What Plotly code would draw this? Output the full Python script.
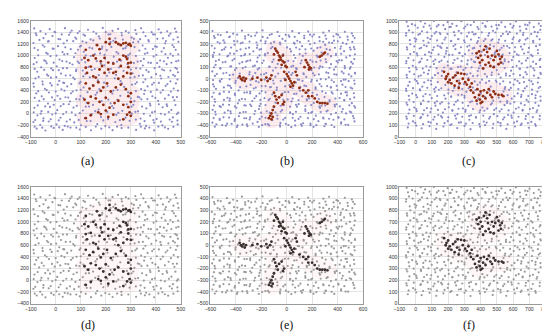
import plotly.graph_objects as go

# ---------------- data: panel (a)/(d) ----------------
A_BACKGROUND = [
    (-86,1468),(-61,1422),(-24,1455),(-2,1402),(37,1473),(64,1431),(88,1389),(129,1446),(151,1411),(188,1478),(227,1427),(249,1460),(291,1396),(318,1441),(341,1470),(383,1404),(411,1452),(445,1418),(476,1466),
    (-77,1352),(-49,1301),(-13,1336),(11,1285),(53,1358),(78,1312),(117,1343),(139,1279),(172,1330),(211,1366),(238,1297),(264,1349),(303,1311),(337,1283),(359,1337),(396,1364),(428,1298),(452,1344),(487,1316),
    (-89,1217),(-52,1178),(-31,1241),(9,1163),(32,1209),(70,1248),(97,1155),(122,1224),(163,1186),(186,1153),(219,1235),(256,1196),(282,1160),(309,1228),(347,1174),(372,1244),(404,1151),(437,1212),(466,1183),(490,1238),
    (-71,1096),(-38,1047),(-8,1118),(27,1061),(47,1029),(89,1101),(112,1064),(146,1123),(177,1038),(204,1093),(243,1058),(269,1120),(297,1033),(334,1088),(366,1046),(388,1112),(423,1069),(458,1031),(479,1099),
    (-84,958),(-46,917),(-21,989),(15,931),(43,896),(73,972),(104,927),(140,993),(164,904),(197,948),(232,981),(261,912),(288,964),(327,897),(352,942),(391,986),(417,915),(448,961),(481,901),
    (-88,852),(-58,798),(-36,867),(4,815),(29,783),(67,846),(93,871),(131,806),(156,768),(194,832),(229,879),(253,797),(286,853),(321,781),(348,829),(380,874),(414,806),(443,851),(478,789),
    (-74,721),(-35,672),(-11,748),(21,689),(58,659),(81,731),(119,684),(144,751),(172,662),(214,708),(241,668),(271,736),(307,694),(332,651),(371,718),(401,679),(433,746),(469,668),(488,712),
    (-81,605),(-53,551),(-19,618),(14,563),(34,527),(76,592),(99,546),(136,624),(168,571),(193,533),(236,608),(259,559),(298,619),(324,540),(358,589),(392,531),(421,604),(458,556),(486,587),
    (-87,462),(-43,426),(-16,485),(23,417),(46,468),(83,401),(111,451),(148,492),(174,423),(207,471),(247,409),(273,459),(305,497),(341,422),(367,468),(404,411),(439,478),(471,432),
    (-78,346),(-56,296),(-27,363),(7,307),(39,281),(61,349),(99,301),(127,368),(159,323),(199,279),(226,344),(258,306),(289,364),(328,287),(353,337),(386,298),(419,361),(451,317),(484,284),
    (-66,219),(-31,171),(-4,232),(31,162),(57,207),(95,243),(124,183),(149,148),(183,214),(219,176),(246,238),(284,159),(314,213),(342,245),(376,171),(409,219),(443,157),(474,229),
    (-85,98),(-57,41),(-23,113),(6,57),(42,26),(71,103),(108,52),(133,121),(171,68),(206,27),(231,94),(266,47),(303,118),(329,38),(362,88),(396,31),(427,107),(462,62),(489,14),
    (-73,-31),(-49,-84),(-14,-17),(19,-73),(57,-104),(79,-28),(116,-78),(144,-8),(181,-61),(209,-97),(242,-22),(279,-72),(304,-3),(339,-88),(377,-39),(403,-94),(436,-18),(468,-67),
    (-89,-147),(-62,-198),(-28,-138),(3,-189),(36,-215),(74,-153),(101,-203),(139,-131),(166,-182),(198,-218),(238,-147),(262,-198),(295,-127),(336,-178),(361,-214),(393,-158),(426,-205),(464,-142),(487,-188),
    (-76,-261),(-41,-293),(-8,-249),(28,-284),(59,-243),(96,-276),(141,-289),(182,-262),(227,-287),(263,-251),(321,-283),(356,-258),(393,-291),(449,-264),
]
A_BACKGROUND_2 = [
    (-80,1385),(-40,1372),(-5,1410),(24,1365),(58,1398),(95,1420),(111,1360),(162,1378),(200,1405),(218,1368),(263,1392),(280,1422),(322,1374),(350,1402),(389,1365),(420,1395),(458,1378),(481,1410),
    (-65,1270),(-28,1248),(18,1282),(45,1258),(82,1290),(107,1245),(150,1262),(176,1294),(230,1255),(268,1275),(312,1290),(330,1240),(370,1268),(406,1290),(440,1252),(470,1276),
    (-85,1130),(-45,1152),(-12,1120),(38,1142),(60,1110),(101,1170),(135,1136),(184,1120),(222,1150),(278,1128),(315,1146),(358,1118),(397,1158),(432,1130),(472,1146),
    (-70,1005),(-32,1028),(3,998),(34,1020),(79,1040),(120,1002),(156,1025),(195,1012),(250,1035),(290,1008),(320,994),(356,1030),(402,1010),(438,1024),(468,996),(489,1022),
    (-76,884),(-40,900),(-8,878),(26,906),(56,870),(88,896),(118,884),(180,860),(245,895),(312,870),(340,905),(370,880),(405,870),(432,900),(462,876),(490,912),
    (-84,770),(-46,752),(-18,778),(12,748),(45,782),(82,760),(108,742),(220,770),(300,758),(338,776),(362,750),(395,782),(425,760),(458,742),(484,772),
    (-68,632),(-30,650),(2,628),(40,656),(70,620),(110,640),(205,650),(315,632),(348,658),(382,624),(418,652),(450,630),(476,646),
    (-89,520),(-52,502),(-22,526),(8,498),(30,532),(62,508),(95,520),(265,520),(318,512),(350,540),(385,500),(412,528),(446,508),(480,520),
    (-70,385),(-36,402),(0,378),(35,395),(68,380),(100,410),(165,360),(230,395),(320,386),(356,398),(380,372),(428,404),(460,378),(488,395),
    (-84,270),(-48,248),(-15,280),(18,254),(50,275),(82,250),(110,268),(210,240),(300,262),(334,278),(366,250),(398,270),(436,256),(468,282),
    (-72,140),(-42,122),(-8,150),(20,128),(52,160),(84,132),(120,118),(225,130),(310,150),(345,120),(378,140),(412,160),(445,128),(478,146),
    (-88,20),(-60,-2),(-30,28),(0,4),(30,-10),(64,20),(96,8),(158,40),(250,10),(318,30),(352,-6),(385,18),(420,-4),(452,24),(484,-8),
    (-82,-112),(-50,-128),(-20,-100),(12,-120),(44,-140),(92,-110),(124,-130),(190,-120),(256,-115),(320,-105),(355,-130),(390,-112),(420,-140),(455,-104),(486,-122),
    (-84,-228),(-54,-245),(-18,-222),(14,-240),(48,-226),(82,-244),(120,-232),(160,-225),(214,-240),(245,-228),(290,-244),(340,-228),(374,-242),(410,-226),(436,-240),(470,-230),
]
A_CLUSTER = [
    (165,1180),(200,1230),(215,1290),(215,1200),(240,1230),(250,1200),(260,1180),(270,1210),(280,1220),(290,1190),(295,1200),(300,1170),(120,1100),(175,1110),
    (115,960),(130,920),(150,1000),(160,950),(180,900),(195,960),(210,880),(230,860),(255,930),(270,1000),(280,980),(285,940),(290,870),(300,880),(260,820),
    (120,790),(125,700),(140,810),(150,640),(160,620),(175,760),(185,820),(195,700),(210,760),(230,700),(240,720),(250,600),(270,640),(285,700),(290,800),(300,690),
    (120,520),(135,430),(150,480),(170,540),(180,390),(190,450),(205,520),(220,380),(240,450),(260,500),(280,420),(300,350),(290,300),
    (115,240),(130,180),(140,290),(160,260),(175,200),(190,150),(200,270),(215,100),(235,180),(250,220),(270,150),(290,110),(300,200),
    (120,-80),(140,-30),(170,20),(180,-10),(200,50),(210,-60),(230,-20),(270,-100),(285,-20),(295,20),(300,-40),
]

# ---------------- data: panel (b)/(e) ----------------
B_BACKGROUND = [
    (-583,412),(-541,381),(-470,402),(-421,389),(-352,415),(-301,378),(-236,398),(-190,417),(-117,386),(-72,404),(-8,379),(44,411),(97,393),(169,407),(214,382),(288,398),(333,414),(391,385),(457,405),(512,392),
    (-566,352),(-497,331),(-452,360),(-388,322),(-326,347),(-279,366),(-204,329),(-151,352),(-99,318),(-33,344),(21,362),(83,327),(138,350),(201,366),(259,324),(311,345),(372,329),(418,358),(481,336),(534,351),
    (-588,285),(-526,306),(-481,272),(-409,294),(-347,311),(-296,268),(-231,289),(-168,306),(-112,275),(-51,297),(3,270),(62,303),(121,281),(184,298),(241,266),(302,292),(357,309),(426,278),(469,301),(528,274),
    (-571,226),(-509,248),(-445,219),(-392,241),(-327,213),(-262,237),(-214,252),(-149,221),(-86,244),(-27,212),(34,236),(101,254),(149,218),(211,242),(274,226),(339,249),(387,215),(451,238),(503,252),
    (-580,188),(-532,163),(-467,194),(-411,171),(-358,198),(-287,158),(-228,183),(-170,201),(-103,166),(-56,190),(12,155),(68,179),(127,197),(186,162),(244,187),(306,168),(348,195),(413,160),(468,184),(531,170),
    (-559,119),(-503,142),(-437,108),(-371,131),(-319,149),(-250,113),(-193,136),(-134,104),(-71,128),(-11,146),(51,111),(109,133),(168,118),(232,145),(281,102),(349,126),(402,141),(456,109),(519,130),
    (-585,63),(-522,88),(-474,52),(-406,76),(-345,92),(-291,58),(-228,81),(-161,49),(-108,71),(-44,95),(17,57),(79,83),(132,46),(193,74),(256,90),(311,55),(372,78),(433,61),(497,87),(536,52),
    (-564,24),(-511,-3),(-448,31),(-383,7),(-331,-10),(-266,21),(-202,36),(-143,-6),(-89,18),(-19,2),(36,33),(97,-9),(154,16),(219,29),(268,-4),(331,12),(391,35),(448,-8),(508,20),
    (-579,-48),(-523,-25),(-462,-58),(-403,-36),(-349,-17),(-284,-52),(-221,-30),(-166,-64),(-102,-41),(-47,-19),(21,-55),(73,-33),(139,-60),(192,-24),(259,-46),(318,-63),(371,-28),(438,-51),(487,-20),(534,-44),
    (-556,-87),(-494,-112),(-437,-79),(-378,-101),(-313,-118),(-259,-84),(-197,-106),(-131,-74),(-79,-98),(-14,-115),(47,-82),(104,-104),(163,-120),(227,-88),(279,-109),(346,-76),(398,-97),(462,-117),(515,-85),
    (-586,-156),(-527,-133),(-466,-164),(-406,-141),(-352,-173),(-287,-127),(-239,-150),(-174,-168),(-113,-136),(-58,-159),(8,-178),(59,-131),(122,-152),(176,-170),(238,-139),(297,-158),(361,-128),(416,-166),(474,-144),(531,-161),
    (-563,-199),(-501,-224),(-449,-189),(-384,-212),(-322,-231),(-271,-193),(-206,-216),(-142,-184),(-88,-207),(-23,-228),(38,-196),(94,-219),(159,-186),(213,-210),(274,-232),(337,-197),(392,-220),(453,-187),(512,-211),
    (-582,-268),(-518,-243),(-461,-274),(-396,-251),(-341,-287),(-278,-236),(-218,-262),(-157,-281),(-101,-247),(-36,-270),(27,-289),(81,-241),(146,-264),(201,-285),(262,-252),(322,-274),(379,-239),(441,-262),(496,-283),(538,-250),
    (-558,-309),(-497,-333),(-439,-298),(-376,-322),(-318,-341),(-254,-304),(-196,-328),(-134,-293),(-74,-317),(-12,-338),(49,-306),(108,-329),(171,-296),(229,-319),(289,-343),(348,-307),(406,-331),(467,-299),(521,-322),
    (-584,-379),(-526,-356),(-468,-388),(-409,-364),(-348,-396),(-291,-351),(-229,-373),(-168,-392),(-113,-358),(-49,-381),(13,-399),(66,-362),(129,-384),(187,-401),(249,-366),(306,-389),(367,-354),(428,-377),(483,-398),(533,-368),
    (-565,-414),(-478,-405),(-391,-417),(-309,-409),(-219,-416),(-138,-403),(-52,-413),(36,-418),(119,-406),(211,-415),(296,-410),(374,-417),
]
B_BACKGROUND_2 = [
    (-571,369),(-519,377),(-446,364),(-389,380),(-327,366),(-248,373),(-189,361),(-133,379),(-58,368),(16,375),(63,362),(138,371),(183,380),(257,359),(304,373),(368,366),(404,379),(478,363),(521,371),
    (-543,317),(-488,311),(-414,325),(-361,306),(-292,321),(-237,313),(-166,323),(-124,305),(-53,311),(-11,327),(57,309),(104,317),(172,326),(219,307),(287,319),(333,311),(402,323),(441,309),(516,318),
    (-566,263),(-491,255),(-437,269),(-363,253),(-321,261),(-234,267),(-201,255),(-124,263),(27,257),(74,269),(147,253),(193,261),(265,271),(313,255),(379,267),(422,259),(497,269),(533,255),
    (-579,205),(-528,211),(-459,199),(-414,215),(-333,203),(-291,213),(-213,201),(-171,213),(57,205),(102,213),(237,199),(323,213),(387,203),(428,215),(497,199),(536,211),
    (-557,153),(-482,145),(-426,159),(-349,143),(-307,155),(-233,147),(-181,157),(-113,145),(54,151),(117,157),(203,147),(267,157),(311,143),(392,153),(433,159),(507,145),
    (-571,99),(-521,91),(-443,105),(-396,93),(-324,101),(-265,107),(-217,91),(-138,103),(-86,95),(37,105),(74,91),(217,97),(263,107),(337,93),(386,103),(457,91),(503,101),
    (-549,41),(-498,47),(-421,35),(-369,45),(-294,37),(-247,49),(-178,39),(-67,45),(46,49),(134,39),(207,47),(253,37),(327,49),(374,39),(447,47),(488,37),(537,45),
    (-579,-11),(-526,-17),(-449,-5),(-401,-19),(-284,-11),(-241,-21),(-173,-7),(-107,-15),(87,-7),(124,-19),(197,-9),(238,-17),(307,-5),(353,-13),(427,-21),(463,-7),(531,-15),
    (-571,-67),(-494,-75),(-446,-61),(-366,-73),(-317,-65),(-243,-77),(-197,-63),(-124,-71),(-77,-77),(-13,-65),(107,-73),(153,-63),(227,-75),(273,-65),(347,-73),(393,-61),(462,-71),(503,-77),
    (-574,-121),(-527,-127),(-453,-115),(-407,-129),(-333,-119),(-287,-113),(-213,-127),(-167,-117),(-33,-125),(13,-115),(77,-129),(203,-121),(307,-123),(353,-115),(427,-129),(473,-117),(528,-125),
    (-567,-177),(-493,-183),(-447,-171),(-373,-185),(-327,-177),(-253,-169),(-207,-183),(-133,-173),(-27,-181),(47,-171),(93,-185),(157,-177),(253,-175),(337,-185),(383,-171),(452,-181),(498,-175),
    (-572,-231),(-527,-237),(-453,-225),(-407,-239),(-333,-229),(-287,-223),(-213,-237),(-167,-227),(-47,-233),(27,-241),(73,-225),(147,-235),(193,-227),(257,-241),(303,-231),(377,-225),(418,-239),(492,-229),(531,-235),
    (-562,-285),(-488,-293),(-442,-281),(-368,-295),(-322,-287),(-248,-279),(-202,-293),(-88,-291),(-47,-283),(27,-295),(73,-285),(147,-279),(193,-293),(267,-287),(313,-281),(387,-295),(433,-285),(507,-291),
    (-574,-339),(-527,-347),(-453,-335),(-407,-349),(-333,-341),(-287,-333),(-213,-347),(-167,-337),(-73,-345),(-27,-353),(47,-337),(93,-347),(167,-339),(213,-349),(287,-335),(333,-345),(407,-337),(453,-351),(527,-341),
    (-553,-394),(-507,-401),(-433,-389),(-387,-403),(-313,-393),(-267,-387),(-193,-401),(-147,-391),(-53,-399),(-7,-389),(67,-403),(113,-393),(187,-387),(233,-401),(307,-391),(353,-399),(427,-387),(463,-397),
]
B_CLUSTER = [
    (-90,260),(-80,240),(-70,225),(-60,200),(-50,185),(-45,165),(-30,150),(-20,140),(-40,120),(-10,110),(0,100),(-60,160),(-100,210),(-30,200),
    (-20,60),(0,40),(10,20),(20,0),(30,-20),(40,-40),(50,-60),(60,-30),(70,60),(80,30),(-10,-10),(30,-70),
    (150,160),(160,140),(170,120),(180,100),(175,80),(190,90),(140,100),(260,190),(275,200),(290,215),(300,225),
    (-370,20),(-360,0),(-350,-10),(-340,10),(-330,-20),(-320,0),(-270,0),(-230,10),(-200,-10),(-160,10),(-150,-20),(-130,0),(-120,30),
    (-100,-120),(-90,-150),(-80,-180),(-70,-210),(-100,-240),(-110,-270),(-120,-300),(-130,-320),(-140,-340),(-120,-350),(-110,-330),(-60,-160),(-40,-140),(-30,-220),(-20,-200),
    (100,-80),(130,-100),(150,-120),(170,-150),(200,-150),(220,-170),(240,-200),(260,-210),(280,-210),(300,-210),(320,-215),(170,-100),
]

# ---------------- data: panel (c)/(f) ----------------
C_BACKGROUND = [
    (-55,991),(-22,971),(31,996),(58,977),(112,998),(141,965),(197,988),(225,974),(281,997),(318,968),(359,990),(412,979),(441,998),(496,963),(528,986),(583,972),(617,995),(674,967),(701,984),(758,975),
    (-41,917),(13,940),(39,910),(94,933),(127,905),(182,928),(209,946),(265,913),(298,935),(349,903),(387,929),(431,947),(476,914),(502,932),(559,908),(596,941),(644,915),(681,930),(733,904),(767,922),
    (-59,873),(-6,849),(17,880),(74,852),(99,868),(152,886),(184,855),(241,875),(263,843),(316,865),(358,883),(389,854),(447,872),(473,841),(526,868),(568,885),(603,856),(661,878),(688,849),(746,866),
    (-33,798),(-1,822),(52,789),(79,811),(136,784),(164,806),(217,825),(244,795),(302,815),(331,787),(378,810),(419,826),(458,792),(508,812),(542,784),(594,807),(636,823),(669,798),(724,816),(764,792),
    (-52,753),(-11,731),(24,761),(83,729),(106,748),(158,766),(189,738),(245,755),(271,724),(327,745),(352,762),(406,734),(436,756),(489,728),(517,749),(577,767),(609,732),(657,753),(692,728),(752,748),
    (-45,679),(11,701),(37,673),(92,692),(121,665),(177,688),(206,706),(258,675),(289,696),(343,667),(372,687),(427,705),(461,674),(514,695),(548,668),(601,688),(633,703),(689,678),(719,695),(768,672),
    (-58,634),(-17,612),(22,641),(66,608),(113,627),(146,645),(198,614),(231,636),(277,604),(318,626),(366,643),(398,613),(451,635),(484,607),(538,630),(572,646),(621,612),(653,632),(708,606),(741,628),
    (-37,562),(6,581),(51,553),(82,573),(138,548),(163,568),(221,585),(252,555),(294,576),(337,547),(383,567),(416,583),(469,554),(499,575),(556,545),(587,570),(642,585),(676,557),(731,573),(768,550),
    (-53,511),(-4,493),(18,520),(77,487),(102,508),(161,525),(186,495),(238,516),(268,484),(324,506),(353,523),(409,492),(439,518),(493,485),(523,510),(579,525),(611,493),(663,513),(698,487),(755,507),
    (-46,440),(14,460),(41,432),(96,451),(124,425),(183,447),(212,465),(266,434),(297,454),(352,424),(381,448),(433,465),(462,432),(519,456),(551,427),(603,450),(639,463),(684,435),(721,453),(766,431),
    (-57,395),(-21,372),(28,400),(61,368),(118,388),(143,405),(201,374),(229,396),(284,362),(312,387),(369,403),(401,370),(456,396),(489,365),(541,390),(576,405),(628,373),(662,393),(716,367),(749,388),
    (-39,319),(9,340),(47,312),(99,332),(131,305),(184,328),(218,345),(259,314),(301,335),(347,305),(386,330),(428,343),(477,312),(511,336),(563,307),(591,328),(649,343),(683,317),(737,333),(769,312),
    (-51,275),(-8,252),(33,280),(69,247),(122,268),(151,285),(204,254),(237,276),(291,244),(323,266),(378,283),(411,252),(463,278),(496,245),(547,272),(583,285),(634,252),(671,273),(722,247),(757,268),
    (-43,200),(7,220),(44,192),(91,212),(139,187),(168,208),(226,225),(257,194),(306,216),(341,185),(393,210),(423,224),(481,194),(517,218),(569,187),(603,208),(658,225),(693,195),(744,213),
    (-54,155),(-16,132),(29,160),(79,127),(109,148),(163,165),(198,134),(249,156),(279,124),(331,146),(372,165),(419,130),(452,156),(507,125),(538,150),(592,163),(624,132),(676,153),(712,127),(763,150),
    (-48,80),(4,95),(37,72),(86,92),(127,67),(171,88),(213,100),(256,74),(301,93),(338,65),(396,87),(427,99),(474,74),(523,95),(558,67),(611,88),(647,100),(696,77),(739,94),
]
C_BACKGROUND_2 = [
    (-47,953),(-3,961),(49,948),(86,958),(131,952),(171,962),(216,947),(252,957),(306,951),(339,963),(381,946),(428,956),(467,950),(512,962),(551,947),(603,957),(641,951),(689,963),(727,946),(770,955),
    (-58,893),(-18,899),(27,888),(71,901),(117,891),(148,897),(196,887),(236,902),(281,892),(327,898),(369,886),(407,901),(452,893),(491,899),(537,888),(579,902),(623,890),(663,897),(711,886),(752,900),
    (-36,833),(4,839),(48,828),(91,842),(132,831),(178,838),(219,827),(262,841),(298,832),(341,838),(383,826),(429,842),(466,831),(513,837),(551,827),(597,841),(641,833),(677,838),(723,827),(763,840),
    (-54,772),(-8,779),(34,767),(68,781),(112,771),(151,777),(193,766),(233,782),(279,772),(318,778),(361,766),(398,781),(439,772),(481,779),(529,767),(563,781),(612,771),(648,777),(697,766),(741,781),
    (-33,713),(7,719),(58,708),(97,722),(141,711),(186,717),(227,707),(268,721),(304,712),(349,718),(486,712),(536,708),(578,721),(623,711),(667,718),(711,706),(753,720),
    (-57,653),(-13,659),(29,648),(72,662),(109,651),(159,657),(197,647),(239,661),(283,652),(321,658),(359,648),(548,652),(592,661),(637,650),(679,657),(723,647),(763,660),
    (-41,593),(1,599),(44,588),(91,602),(129,591),(176,597),(214,587),(261,601),(307,592),(344,598),(389,590),(548,593),(597,601),(639,588),(687,597),(724,590),(766,602),
    (-55,533),(-9,539),(32,528),(76,542),(119,531),(316,537),(381,527),(426,541),(467,532),(511,538),(556,528),(602,541),(642,531),(684,538),(728,527),(770,540),
    (-37,473),(7,479),(53,468),(94,482),(136,471),(363,477),(396,467),(452,481),(498,472),(539,478),(581,468),(627,481),(667,471),(712,478),(752,467),
    (-59,413),(-16,419),(26,408),(72,422),(114,411),(158,417),(202,407),(238,421),(287,412),(326,418),(548,412),(586,421),(632,411),(672,417),(716,407),(757,420),
    (-42,353),(3,359),(47,348),(87,362),(133,351),(176,357),(219,347),(262,361),(301,352),(566,358),(608,348),(651,361),(693,351),(738,357),(768,347),
    (-56,293),(-12,299),(32,288),(79,302),(118,291),(162,297),(203,287),(248,301),(289,292),(336,298),(469,288),(521,302),(563,291),(607,297),(648,287),(694,301),(737,292),
    (-38,233),(4,239),(52,228),(96,242),(137,231),(181,237),(226,227),(264,241),(308,232),(353,238),(397,228),(441,242),(484,231),(529,237),(572,227),(617,241),(659,232),(703,238),(748,228),
    (-57,173),(-11,179),(33,168),(74,182),(116,171),(157,177),(201,167),(243,181),(287,172),(329,178),(371,168),(416,182),(458,171),(503,177),(546,167),(589,181),(633,172),(679,178),(721,168),(764,180),
    (-43,113),(-2,119),(46,108),(93,122),(131,111),(178,117),(221,107),(266,121),(309,112),(351,118),(392,108),(437,122),(478,111),(522,117),(566,107),(606,121),(652,112),(691,118),(736,108),
]
C_CLUSTER = [
    (375,720),(390,735),(400,700),(410,660),(420,750),(430,780),(440,730),(445,690),(450,640),(460,610),(470,700),(480,660),(490,690),(500,740),(510,710),(520,670),(525,640),(530,690),(510,625),(480,600),(430,620),(395,640),(415,590),(455,760),(385,680),
    (175,560),(190,520),(200,540),(210,490),(220,460),(230,510),(245,530),(255,480),(265,420),(270,460),(280,545),(290,500),(300,540),(305,470),(315,450),(325,490),(335,430),(240,440),(200,470),(185,500),(260,550),(345,460),
    (340,400),(355,380),(365,340),(380,410),(390,360),(395,320),(400,390),(410,300),(415,350),(420,400),(430,330),(440,380),(450,410),(460,360),(470,340),(490,370),(510,360),(530,360),(540,350),(480,390),(400,290),(375,310),
]

# ---------------- axes settings ----------------
X_RANGES = {"a": (-100, 500, 100), "b": (-600, 600, 200), "c": (-100, 800, 100)}
Y_RANGES = {"a": (-400, 1600, 200), "b": (-500, 500, 100), "c": (0, 1000, 100)}
LABELS = ["a", "b", "c", "d", "e", "f"]

W, H = 550, 332
X_DOM = [(17, 170), (200, 355.5), (392.5, 541.5)]
Y_DOM = [(10, 128), (179, 298)]
LABEL_Y = [153, 320]
LABEL_X = [75, 278, 463]

datasets = {
    "a": (A_BACKGROUND + A_BACKGROUND_2, A_CLUSTER),
    "b": (B_BACKGROUND + B_BACKGROUND_2, B_CLUSTER),
    "c": (C_BACKGROUND + C_BACKGROUND_2, C_CLUSTER),
}

fig = go.Figure()
layout = {}
annotations = []
for i in range(6):
    row, col = divmod(i, 3)
    key = "abc"[col]
    n = i + 1
    xa = "x" if n == 1 else f"x{n}"
    ya = "y" if n == 1 else f"y{n}"
    bg, cl = datasets[key]
    top = row == 0
    bg_col = "#8a8ac6" if top else "#9a9a9a"
    cl_col = "#8e2d14" if top else "#3a3030"
    # soft pink halo around the cluster members (trace-level opacity, so overlaps do not stack)
    fig.add_trace(go.Scatter(x=[p[0] for p in cl], y=[p[1] for p in cl], mode="markers",
                             marker=dict(size=18, color="#f7a3ab", line=dict(width=0)),
                             opacity=0.2 if top else 0.09,
                             hoverinfo="skip", showlegend=False, xaxis=xa, yaxis=ya))
    fig.add_trace(go.Scatter(x=[p[0] for p in bg], y=[p[1] for p in bg], mode="markers",
                             marker=dict(size=2.2, color=bg_col, line=dict(width=0)),
                             hoverinfo="skip", showlegend=False, xaxis=xa, yaxis=ya))
    fig.add_trace(go.Scatter(x=[p[0] for p in cl], y=[p[1] for p in cl], mode="markers",
                             marker=dict(size=2.8, color=cl_col, line=dict(width=0)),
                             hoverinfo="skip", showlegend=False, xaxis=xa, yaxis=ya))
    x0, x1, dx = X_RANGES[key]
    y0, y1, dy = Y_RANGES[key]
    common = dict(showgrid=True, gridcolor="#e4e4e4", gridwidth=0.6, zeroline=False,
                  showline=True, mirror=True, linecolor="#9a9a9a", linewidth=0.7,
                  ticks="", tickfont=dict(family="Liberation Sans, Arial", size=5.2, color="#333333"),
                  fixedrange=True)
    xd = X_DOM[col]
    yd = Y_DOM[row]
    layout["xaxis" if n == 1 else f"xaxis{n}"] = dict(
        common, range=[x0, x1], dtick=dx, tick0=x0,
        domain=[xd[0] / W, xd[1] / W], anchor=ya)
    layout["yaxis" if n == 1 else f"yaxis{n}"] = dict(
        common, range=[y0, y1], dtick=dy, tick0=y0,
        domain=[1 - yd[1] / H, 1 - yd[0] / H], anchor=xa)
    annotations.append(dict(text=f"({LABELS[i]})",
                            x=LABEL_X[col] / W, y=1 - LABEL_Y[row] / H,
                            xref="paper", yref="paper", showarrow=False,
                            font=dict(family="Liberation Serif, Times New Roman", size=12, color="#111111"),
                            xanchor="center", yanchor="middle"))

fig.update_layout(width=W, height=H, margin=dict(l=0, r=0, t=0, b=0),
                  paper_bgcolor="white", plot_bgcolor="white",
                  annotations=annotations, **layout)
fig.write_html("out.html")
